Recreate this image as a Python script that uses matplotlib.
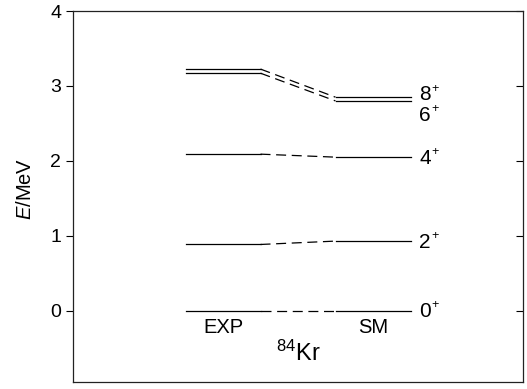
import matplotlib
matplotlib.use('Agg')
import matplotlib.pyplot as plt
from matplotlib.lines import TICKLEFT

plt.rcParams['font.family'] = ['Liberation Sans', 'DejaVu Sans']
plt.rcParams['mathtext.fontset'] = 'custom'
plt.rcParams['mathtext.rm'] = 'Liberation Sans'
plt.rcParams['mathtext.it'] = 'Liberation Sans:italic'

# level energies in MeV
spins = ['0', '2', '4', '6', '8']
expEnergy = [0.0, 0.885, 2.09, 3.17, 3.225]
smEnergy = [0.0, 0.93, 2.05, 2.80, 2.85]
labelOffset = [-0.01, -0.02, -0.02, -0.19, 0.03]

expSpan = (1.5, 2.5)
smSpan = (3.5, 4.5)

fig = plt.figure(figsize=(5.27, 3.89), dpi=100)
ax = fig.add_axes([73 / 527, 1 - 382 / 389, 450 / 527, 371 / 389])

for spin, e, s, off in zip(spins, expEnergy, smEnergy, labelOffset):
    ax.plot(expSpan, [e, e], color='black', lw=0.9)
    ax.plot(smSpan, [s, s], color='black', lw=0.9)
    ax.plot([expSpan[1], smSpan[0]], [e, s], color='black', lw=0.9,
            dashes=(8, 4.5))
    # spin number with a small raised parity sign
    ax.text(4.62, s + off, spin, fontsize=15, va='center', ha='left')
    ax.annotate('+', xy=(4.62, s + off), xytext=(8.6, 4.5),
                textcoords='offset points', fontsize=9,
                va='center', ha='left')

ax.text(2.0, -0.22, 'EXP', fontsize=14.5, ha='center', va='center')
ax.text(4.0, -0.22, 'SM', fontsize=14.5, ha='center', va='center')
ax.text(3.0, -0.57, r'$^{84}$Kr', fontsize=17, ha='center', va='center')

ax.set_xlim(0, 6)
ax.set_ylim(-0.95, 4)
ax.set_yticks([0, 1, 2, 3, 4])
ax.set_xticks([])
ax.set_ylabel(r'$E$/MeV', fontsize=14.5)
ax.yaxis.set_label_coords(-0.085, 0.52)
ax.tick_params(axis='y', labelsize=14, length=5, width=0.8, direction='out')
ax.tick_params(axis='y', which='both', right=True, labelright=False)
for t in ax.yaxis.get_major_ticks():
    t.tick2line.set_marker(TICKLEFT)
for sp in ax.spines.values():
    sp.set_linewidth(0.9)
    sp.set_color('#222222')

fig.savefig('out.png', dpi=100)
